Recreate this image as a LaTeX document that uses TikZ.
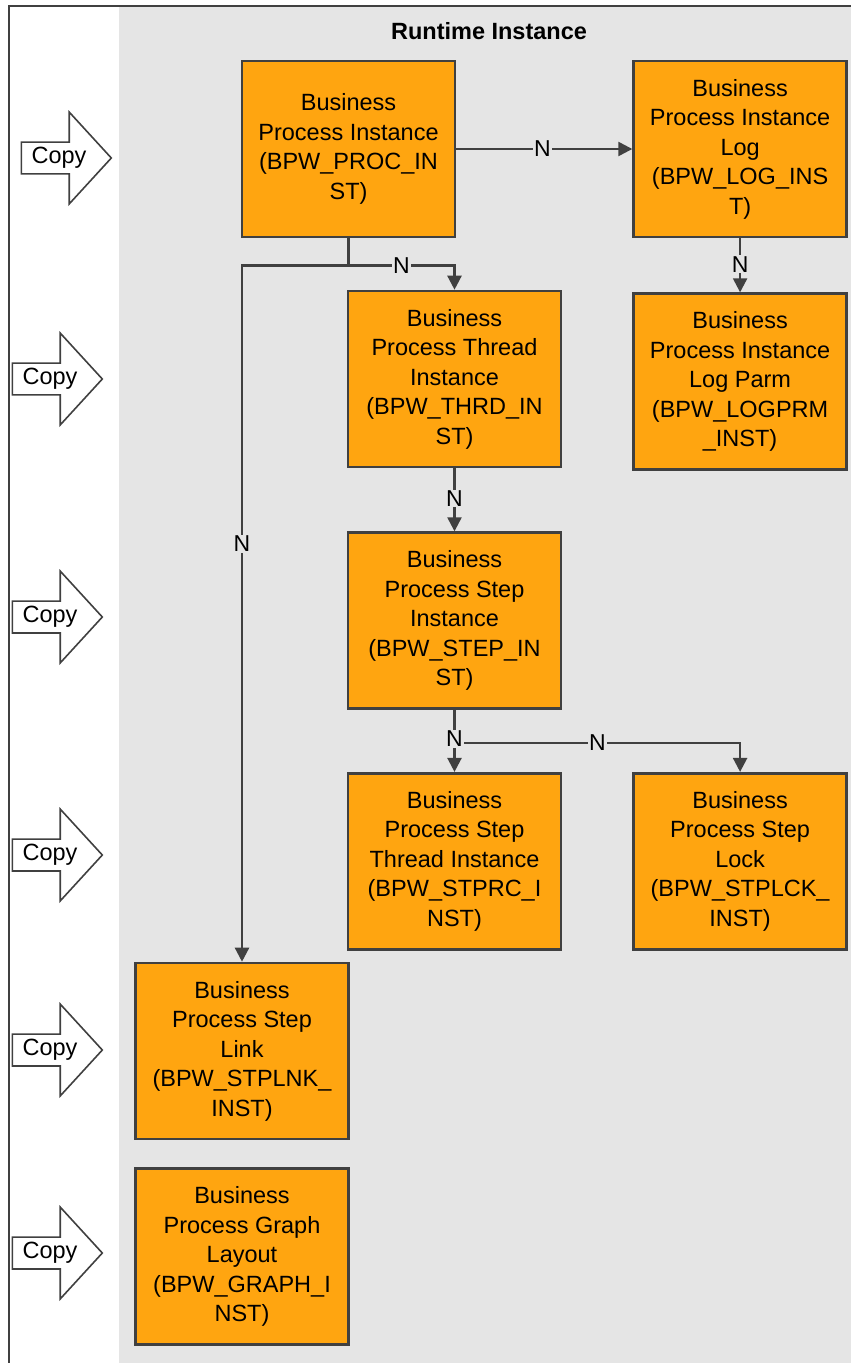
\documentclass[tikz,border=0pt]{standalone}
\usepackage{fontspec}
\setmainfont{Liberation Sans}
\usetikzlibrary{arrows.meta}
\usetikzlibrary{positioning}
\usetikzlibrary{shapes.arrows}

\definecolor{bggray}{HTML}{E5E5E5}
\definecolor{tblorange}{HTML}{FFA510}
\definecolor{linegray}{HTML}{404040}

\begin{document}
\begin{tikzpicture}[x=1pt,y=-1pt,thick,
    tbl/.style={draw=linegray,line width=2.6pt,fill=tblorange,minimum width=213pt,
      minimum height=176pt,inner sep=0pt,align=center,font=\fontsize{23.5}{29.5}\selectfont},
    copyarrow/.style={single arrow,draw=linegray,line width=1.6pt,fill=white,
      minimum height=90pt,single arrow head extend=30pt,single arrow tip angle=95,
      inner xsep=1pt,inner ysep=4.5pt,font=\fontsize{23.5}{26}\selectfont},
    rel/.style={draw=linegray,line width=2.4pt,-{Triangle[width=14pt,length=14pt]}},
    card/.style={fill=bggray,inner sep=1pt,font=\fontsize{23}{26}\selectfont}]
  \useasboundingbox (0,0) rectangle (851,1363);
  \fill[bggray] (119,7) rectangle (851,1363);
  \draw[linegray,line width=1.6pt] (9,1363) -- (9,6) -- (851,6);

  \node[font=\bfseries\fontsize{23.5}{26}\selectfont] (title) at (489,31) {Runtime Instance};

  \node[tbl] (proc) at (348.5,149) {Business\\Process Instance\\(BPW\_PROC\_IN\\ST)};
  \node[tbl] (log) [right=176pt of proc] {Business\\Process Instance\\Log\\(BPW\_LOG\_INS\\T)};
  \node[tbl] (logprm) [below=54pt of log] {Business\\Process Instance\\Log Parm\\(BPW\_LOGPRM\\\_INST)};
  \node[tbl] (thrd) at (454.5,379) {Business\\Process Thread\\Instance\\(BPW\_THRD\_IN\\ST)};
  \node[tbl] (step) [below=63pt of thrd] {Business\\Process Step\\Instance\\(BPW\_STEP\_IN\\ST)};
  \node[tbl] (stprc) [below=62pt of step] {Business\\Process Step\\Thread Instance\\(BPW\_STPRC\_I\\NST)};
  \node[tbl] (stplck) [right=70pt of stprc] {Business\\Process Step\\Lock\\(BPW\_STPLCK\_\\INST)};
  \node[tbl] (stplnk) at (242,1051) {Business\\Process Step\\Link\\(BPW\_STPLNK\_\\INST)};
  \node[tbl] (graph) [below=27pt of stplnk] {Business\\Process Graph\\Layout\\(BPW\_GRAPH\_I\\NST)};

  \node[copyarrow] (copy1) at (59,158) {Copy};
  \node[copyarrow] (copy2) at (50,379) {Copy};
  \node[copyarrow] (copy3) at (50,617) {Copy};
  \node[copyarrow] (copy4) at (50,855) {Copy};
  \node[copyarrow] (copy5) at (50,1050) {Copy};
  \node[copyarrow] (copy6) at (50,1253) {Copy};

  \draw[rel] (proc) -- node[card,pos=0.49] (n1) {N} (log);
  \draw[rel] (proc.south) -- ++(0,27) -| node[card,pos=0.25] (n2) {N} (thrd.north);
  \draw[rel] (proc.south) -- ++(0,27) -| node[card,pos=0.7] (n3) {N} (stplnk.north);
  \draw[rel] (log) -- node[card,pos=0.48] (n4) {N} (logprm);
  \draw[rel] (thrd) -- node[card,pos=0.48] (n5) {N} (step);
  \draw[rel] (step.south) -- ++(0,33) -| node[card,pos=0.25] (n7) {N} (stplck.north);
  \draw[rel] (step) -- node[card,pos=0.47] (n6) {N} (stprc);
\end{tikzpicture}
\end{document}
